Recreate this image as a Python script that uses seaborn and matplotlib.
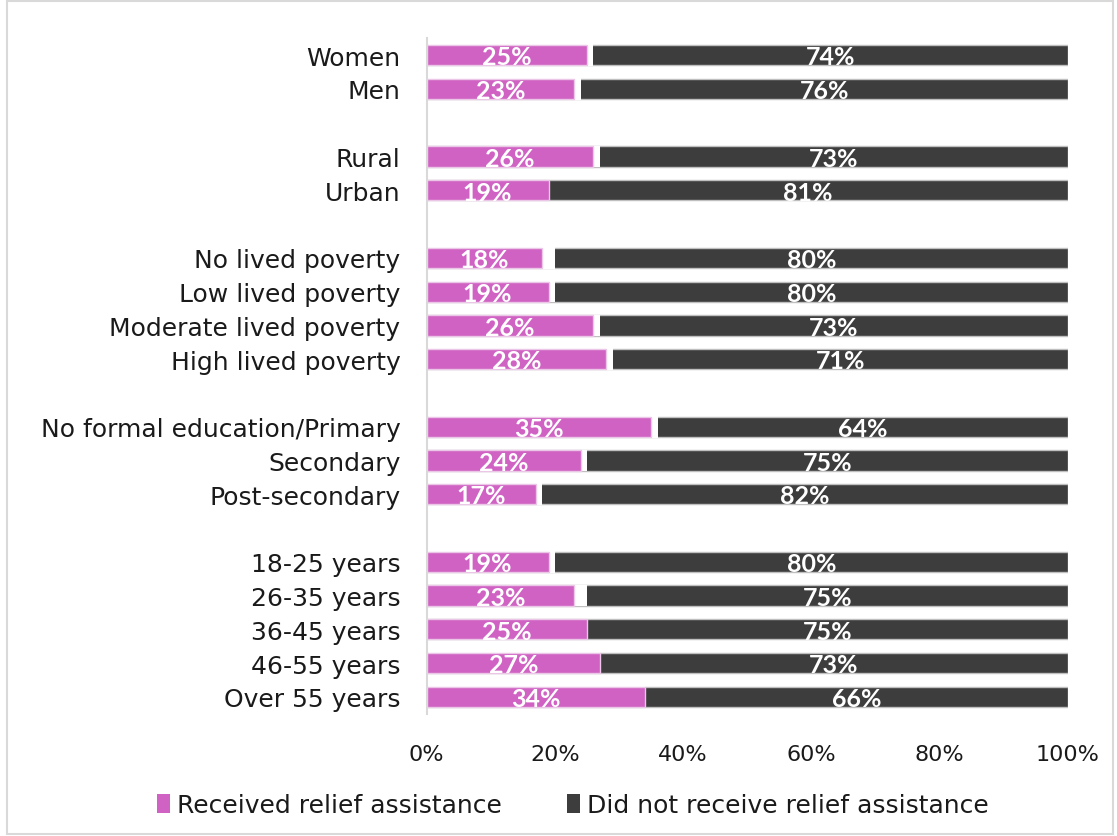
import matplotlib
matplotlib.use("Agg")
import matplotlib.pyplot as plt
import seaborn as sns
import pandas as pd
from matplotlib.patches import Patch, Rectangle

categories = ["Women", "Men", "Rural", "Urban", "No lived poverty", "Low lived poverty",
              "Moderate lived poverty", "High lived poverty", "No formal education/Primary",
              "Secondary", "Post-secondary", "18-25 years", "26-35 years", "36-45 years",
              "46-55 years", "Over 55 years"]
received = [25, 23, 26, 19, 18, 19, 26, 28, 35, 24, 17, 19, 23, 25, 27, 34]
not_received = [74, 76, 73, 81, 80, 80, 73, 71, 64, 75, 82, 80, 75, 75, 73, 66]
xticks = [0, 20, 40, 60, 80, 100]
xtick_labels = ["0%", "20%", "40%", "60%", "80%", "100%"]
legend_labels = ["Received relief assistance", "Did not receive relief assistance"]

# group spacers
order = ["Women", "Men", " ", "Rural", "Urban", "  ", "No lived poverty", "Low lived poverty",
         "Moderate lived poverty", "High lived poverty", "   ", "No formal education/Primary",
         "Secondary", "Post-secondary", "    ", "18-25 years", "26-35 years", "36-45 years",
         "46-55 years", "Over 55 years"]

PINK = "#D062C4"
DARK = "#3D3D3D"

df = pd.DataFrame({"cat": categories, "rec": received, "not": not_received})
df["total"] = 100
df["cover"] = 100 - df["not"]

sns.set_theme(style="white")
plt.rcParams["font.family"] = ["DejaVu Sans"]

fig = plt.figure(figsize=(11.17, 8.37), dpi=100)
ax = fig.add_axes([0.382, 0.146, 0.574, 0.807])

sns.barplot(data=df, y="cat", x="total", order=order, color=DARK, width=0.6,
            edgecolor="#BFBFBF", linewidth=1, saturation=1, ax=ax, orient="y")
sns.barplot(data=df, y="cat", x="cover", order=order, color="white", width=0.64,
            edgecolor="white", linewidth=0, saturation=1, ax=ax, orient="y")
sns.barplot(data=df, y="cat", x="rec", order=order, color=PINK, width=0.6,
            edgecolor="#EBC6E6", linewidth=1, saturation=1, ax=ax, orient="y")

pos = {c: i for i, c in enumerate(order)}
for c, r, n in zip(categories, received, not_received):
    y = pos[c]
    ax.text(r / 2, y + 0.05, f"{r}%", ha="center", va="center", color="white",
            fontsize=18, fontweight="bold", family="Lato")
    ax.text(100 - n / 2, y + 0.05, f"{n}%", ha="center", va="center", color="white",
            fontsize=18, fontweight="bold", family="Lato")

ax.set_xlim(0, 100)
ax.set_ylim(len(order) - 0.5, -0.5)
ax.set_xticks(xticks)
ax.set_xticklabels(xtick_labels, fontsize=16, color="#1a1a1a")
ax.tick_params(axis="y", labelsize=18, colors="#1a1a1a", length=0, pad=19)
ax.tick_params(axis="x", length=0, pad=22)
ax.set_xlabel("")
ax.set_ylabel("")
for s in ["top", "right", "bottom"]:
    ax.spines[s].set_visible(False)
ax.spines["left"].set_color("#D9D9D9")
ax.spines["left"].set_linewidth(1.5)

handles = [Patch(facecolor=PINK, edgecolor="none"), Patch(facecolor=DARK, edgecolor="none")]
fig.legend(handles, legend_labels, loc="center", bbox_to_anchor=(0.513, 0.037), ncol=2,
           frameon=False, fontsize=18, handlelength=0.5, handleheight=0.8,
           handletextpad=0.3, columnspacing=2.6, labelcolor="#1a1a1a")

fig.patches.append(Rectangle((0.006, 0.002), 0.99, 0.996, transform=fig.transFigure,
                             fill=False, edgecolor="#D9D9D9", linewidth=1.5))

fig.savefig("out.png", dpi=100)
